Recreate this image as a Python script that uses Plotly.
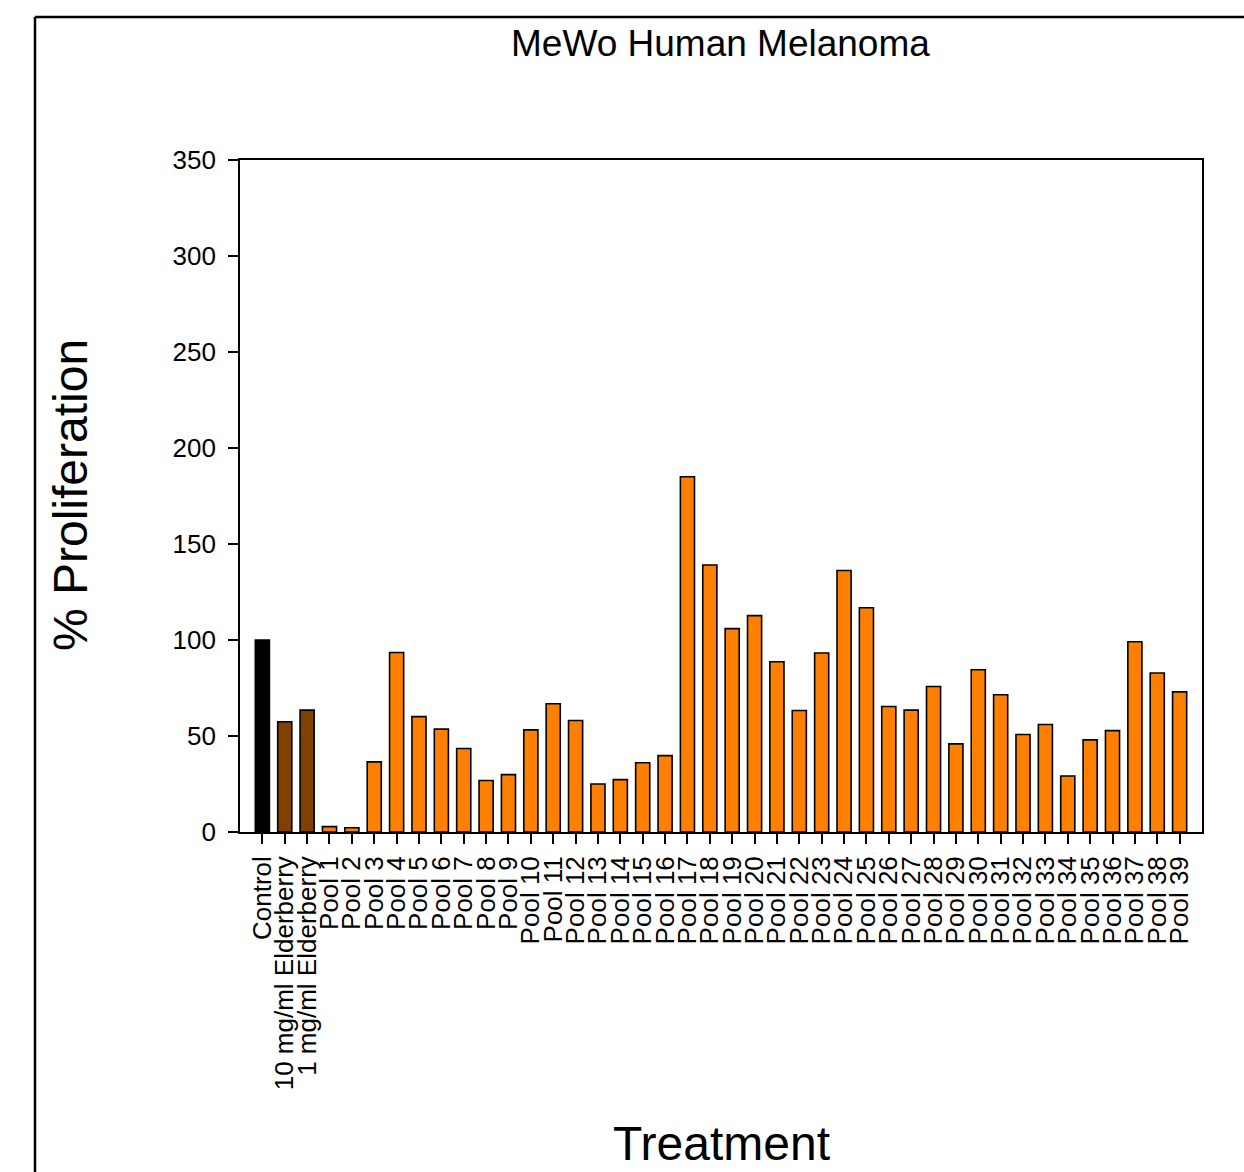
import plotly.graph_objects as go

categories = ["Control", "10 mg/ml Elderberry", "1 mg/ml Elderberry"] + [f"Pool {i}" for i in range(1, 40)]
values = [100.0, 57.4, 63.5,
          2.8, 2.2, 36.5, 93.5, 60.1, 53.6, 43.5, 26.8, 29.9, 53.2,
          66.8, 58.1, 25.0, 27.3, 36.1, 39.8, 185.0, 139.1, 105.9, 112.7,
          88.7, 63.3, 93.2, 136.2, 116.8, 65.4, 63.5, 75.8, 45.9, 84.5,
          71.5, 50.8, 56.0, 29.2, 48.0, 52.8, 99.1, 82.8, 73.0]
bar_colors = ["#000000", "#804000", "#804000"] + ["#FF8000"] * 39

y_ticks = [0, 50, 100, 150, 200, 250, 300, 350]

FONT = "Liberation Sans, Arial, sans-serif"

fig = go.Figure(go.Bar(
    x=categories, y=values,
    marker=dict(color=bar_colors, line=dict(color="black", width=1.6)),
    width=0.63,
))

W, H = 1244, 1172
L, R, T, B = 240, 42, 160, 340
pw, ph = W - L - R, H - T - B

def px_x(x):
    return (x - L) / pw

def px_y(y):
    return (H - B - y) / ph

fig.update_layout(
    width=W, height=H,
    margin=dict(l=L, r=R, t=T, b=B, pad=0),
    paper_bgcolor="white", plot_bgcolor="white",
    font=dict(family=FONT, color="black", size=26),
    showlegend=False,
    xaxis=dict(
        type="category", range=[-1, 42],
        tickmode="array", tickvals=categories, ticktext=categories,
        showline=True, linecolor="black", linewidth=1.6, mirror=True,
        ticks="outside", ticklen=10, tickwidth=1.6, tickcolor="black",
        tickangle=-90, tickfont=dict(size=26, family=FONT),
        showgrid=False, zeroline=False, ticklabelstandoff=2,
    ),
    yaxis=dict(
        range=[0, 350], tickmode="array", tickvals=y_ticks,
        showline=True, linecolor="black", linewidth=1.6, mirror=True,
        ticks="outside", ticklen=10, tickwidth=1.6, tickcolor="black",
        tickfont=dict(size=26, family=FONT),
        showgrid=False, zeroline=False, ticklabelstandoff=7,
    ),
    shapes=[
        dict(type="line", xref="paper", yref="paper",
             x0=px_x(35), x1=px_x(1250), y0=px_y(17), y1=px_y(17),
             line=dict(color="black", width=2.5)),
        dict(type="line", xref="paper", yref="paper",
             x0=px_x(35), x1=px_x(35), y0=px_y(17), y1=px_y(1180),
             line=dict(color="black", width=2.5)),
    ],
    annotations=[
        dict(text="MeWo Human Melanoma", xref="paper", yref="paper",
             x=px_x(720), y=px_y(43), xanchor="center", yanchor="middle",
             showarrow=False, font=dict(size=37, family=FONT)),
        dict(text="Treatment", xref="paper", yref="paper",
             x=px_x(721), y=px_y(1143), xanchor="center", yanchor="middle",
             showarrow=False, font=dict(size=48, family=FONT)),
        dict(text="% Proliferation", xref="paper", yref="paper",
             x=px_x(70), y=px_y(495), xanchor="center", yanchor="middle",
             textangle=-90, showarrow=False, font=dict(size=48, family=FONT)),
    ],
)

fig.write_html("out.html")
